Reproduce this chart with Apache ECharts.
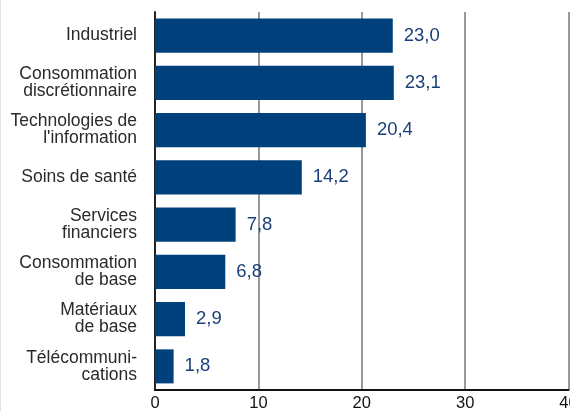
<!DOCTYPE html>
<html>
<head>
<meta charset="utf-8">
<script src="https://cdn.jsdelivr.net/npm/echarts@6/dist/echarts.min.js"></script>
<style>
html,body{margin:0;padding:0;background:#fff;}
#c{width:570px;height:411px;box-sizing:border-box;border-left:1px solid #e2e2e2;}
</style>
</head>
<body>
<div id="c"></div>
<script>
const categories = [
  "Industriel",
  "Consommation\ndiscrétionnaire",
  "Technologies de\nl'information",
  "Soins de santé",
  "Services\nfinanciers",
  "Consommation\nde base",
  "Matériaux\nde base",
  "Télécommuni-\ncations"
];
const values = [23.0, 23.1, 20.4, 14.2, 7.8, 6.8, 2.9, 1.8];
const xTicks = [0, 10, 20, 30, 40];

const chart = echarts.init(document.getElementById('c'), null, {renderer: 'canvas'});
chart.setOption({
  animation: false,
  grid: {left: 154, right: 1.5, top: 12, bottom: 21, containLabel: false, outerBoundsMode: 'none'},
  xAxis: {
    type: 'value',
    min: xTicks[0],
    max: xTicks[xTicks.length - 1],
    interval: 10,
    axisLine: {show: true, onZero: false, lineStyle: {color: '#111', width: 2}},
    axisTick: {show: false},
    axisLabel: {color: '#111', fontSize: 16.5, fontFamily: 'Liberation Sans, Arial, sans-serif', margin: 5, hideOverlap: false},
    splitLine: {show: true, lineStyle: {color: '#777', width: 1.5}}
  },
  yAxis: {
    type: 'category',
    data: categories,
    inverse: true,
    axisLine: {show: true, lineStyle: {color: '#222', width: 2}},
    axisTick: {show: false},
    axisLabel: {color: '#2a2a2a', fontSize: 17.5, lineHeight: 17, margin: 18, align: 'right', fontFamily: 'Liberation Sans, Arial, sans-serif'},
    splitLine: {show: false}
  },
  series: [{
    type: 'bar',
    data: values,
    barWidth: '72%',
    itemStyle: {color: '#00407c'},
    label: {
      show: true,
      position: 'right',
      distance: 11,
      color: '#1b3f78',
      fontSize: 18.5,
      fontFamily: 'Liberation Sans, Arial, sans-serif',
      formatter: p => p.value.toFixed(1).replace('.', ',')
    }
  }]
});
</script>
</body>
</html>
